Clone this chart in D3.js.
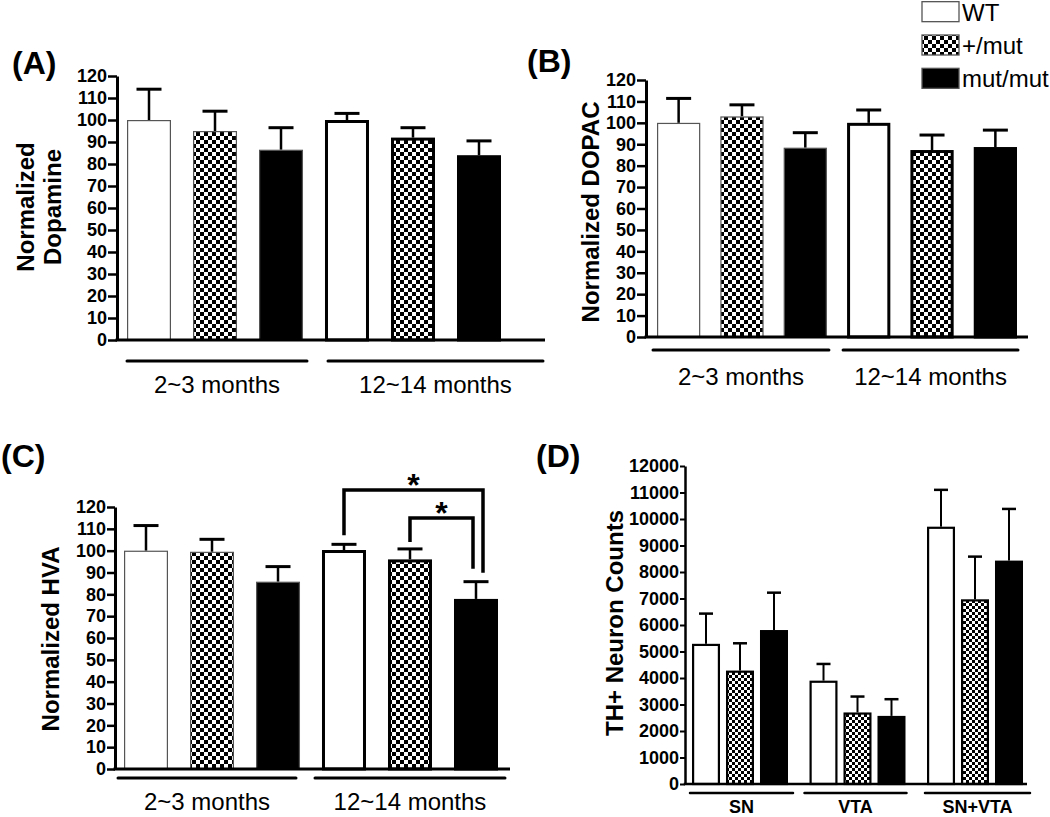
<!DOCTYPE html>
<html><head><meta charset="utf-8">
<script src="https://cdn.jsdelivr.net/npm/d3@7"></script>
<style>body{margin:0;background:#fff;} svg{display:block;font-family:"Liberation Sans",Arial,sans-serif;}</style>
</head><body>
<svg id="chart" width="1050" height="817"></svg>
<script>
// ---------- data ----------
const series = ["WT", "+/mut", "mut/mut"];
const ageGroups = ["2~3 months", "12~14 months"];
const regionGroups = ["SN", "VTA", "SN+VTA"];
const ticks120 = [0,10,20,30,40,50,60,70,80,90,100,110,120];
const ticks12000 = [0,1000,2000,3000,4000,5000,6000,7000,8000,9000,10000,11000,12000];

const dopamineMean = [[100, 95, 86.5], [100, 92, 84]];
const dopamineSem  = [[14, 9, 10], [3, 4.5, 6.5]];
const dopacMean = [[100, 103, 88.4], [100, 87.3, 88.7]];
const dopacSem  = [[11.4, 5.4, 7], [6, 7, 7.9]];
const hvaMean = [[100, 99.5, 85.8], [100.3, 96, 77.9]];
const hvaSem  = [[11.5, 5.7, 6.9], [2.6, 4.8, 7.9]];
const thMean = [[5290, 4280, 5810], [3900, 2700, 2570], [9710, 6970, 8430]];
const thSem  = [[1140, 1030, 1410], [630, 600, 630], [1390, 1610, 1950]];
const hvaComparisons = [
  {group: "12~14 months", from: "WT", to: "mut/mut", level: 127.8, mark: "*"},
  {group: "12~14 months", from: "+/mut", to: "mut/mut", level: 115, mark: "*"}
];

// ---------- drawing ----------
const FONT = "'Liberation Sans', Arial, sans-serif";
const svg = d3.select("#chart");
const defs = svg.append("defs");
function checker(id, c) {
  const p = defs.append("pattern").attr("id", id).attr("patternUnits", "userSpaceOnUse")
    .attr("width", 2*c).attr("height", 2*c);
  p.append("rect").attr("width", 2*c).attr("height", 2*c).attr("fill", "#fff");
  p.append("rect").attr("width", c).attr("height", c).attr("fill", "#000");
  p.append("rect").attr("x", c).attr("y", c).attr("width", c).attr("height", c).attr("fill", "#000");
}
checker("chk4", 4);
checker("chk3", 3);

const panels = [
  {label: "(A)", labelPos: [12, 74], title: ["Normalized", "Dopamine"], titleX: [34, 61], titleY: 207,
   groups: ageGroups, means: dopamineMean, sems: dopamineSem, ticks: ticks120, yMax: 120, yRange: [340, 76],
   axisX: 117, barRange: [127, 501], gPad: 0.111, sPad: 1/3, axisEnd: 545,
   lineY: 361, lineExt: [[0, 4], [3, 42]], labelY: 393, labelFont: "24px", labelWeight: "normal",
   pattern: "chk4", thinFirst: true, thick: 3, tickLen: 9, axisW: 3, capW: 25, errW: 2.5},
  {label: "(B)", labelPos: [527, 72], title: ["Normalized DOPAC"], titleX: [599], titleY: 212,
   groups: ageGroups, means: dopacMean, sems: dopacSem, ticks: ticks120, yMax: 120, yRange: [337, 80],
   axisX: 646, barRange: [657, 1017], gPad: 0.106, sPad: 0.317, axisEnd: 1028,
   lineY: 350, lineExt: [[-4, 2], [-4, 1]], labelY: 385, labelFont: "24px", labelWeight: "normal",
   pattern: "chk4", thinFirst: true, thick: 3, tickLen: 9, axisW: 3, capW: 25, errW: 2.5},
  {label: "(C)", labelPos: [1, 467], title: ["Normalized HVA"], titleX: [59], titleY: 639,
   groups: ageGroups, means: hvaMean, sems: hvaSem, ticks: ticks120, yMax: 120, yRange: [769, 507],
   axisX: 115, barRange: [124, 498], gPad: 0.111, sPad: 1/3, axisEnd: 510,
   lineY: 778, lineExt: [[-6, -4], [-7, 7]], labelY: 810, labelFont: "24px", labelWeight: "normal",
   pattern: "chk4", thinFirst: true, thick: 3, tickLen: 8, axisW: 3, capW: 25, errW: 2.5,
   comparisons: hvaComparisons, compLayout: [{dxTo: 7, gapFrom: 9, gapTo: 9}, {dxTo: -3, gapFrom: 7, gapTo: 13}]},
  {label: "(D)", labelPos: [536, 467], title: ["TH+ Neuron Counts"], titleX: [623], titleY: 623,
   groups: regionGroups, means: thMean, sems: thSem, ticks: ticks12000, yMax: 12000, yRange: [784, 466],
   axisX: 685, barRange: [692, 1023], gPad: 0.183, sPad: 0.176, axisEnd: 1027,
   lineY: 793, lineExt: [[-2, 5], [-5, 1], [-2, 7]], labelY: 813, labelFont: "18px", labelWeight: "bold",
   pattern: "chk3", thinFirst: false, thick: 2.2, tickLen: 5, axisW: 2.5, capW: 14, errW: 2}
];

panels.forEach(p => {
  const g = svg.append("g");
  const y = d3.scaleLinear().domain([0, p.yMax]).range(p.yRange);
  const gx = d3.scaleBand().domain(p.groups).range(p.barRange).paddingInner(p.gPad).paddingOuter(0);
  const sx = d3.scaleBand().domain(series).range([0, gx.bandwidth()]).paddingInner(p.sPad).paddingOuter(0);
  const fillOf = s => s === "WT" ? "#fff" : (s === "+/mut" ? `url(#${p.pattern})` : "#000");

  const rows = [];
  p.groups.forEach((grp, gi) => series.forEach((s, si) => {
    rows.push({grp, gi, s, mean: p.means[gi][si], sem: p.sems[gi][si]});
  }));

  // error bars (upper only)
  rows.forEach(d => {
    const cx = gx(d.grp) + sx(d.s) + sx.bandwidth() / 2;
    g.append("line").attr("x1", cx).attr("x2", cx)
      .attr("y1", y(d.mean)).attr("y2", y(d.mean + d.sem))
      .attr("stroke", "#000").attr("stroke-width", p.errW);
    g.append("line").attr("x1", cx - p.capW / 2).attr("x2", cx + p.capW / 2)
      .attr("y1", y(d.mean + d.sem)).attr("y2", y(d.mean + d.sem))
      .attr("stroke", "#000").attr("stroke-width", p.errW + 0.5);
  });

  // bars
  rows.forEach(d => {
    const thin = p.thinFirst && d.gi === 0;
    const sw = thin ? 1.2 : p.thick;
    const x0 = gx(d.grp) + sx(d.s);
    g.append("rect")
      .attr("x", x0 + sw / 2).attr("width", sx.bandwidth() - sw)
      .attr("y", y(d.mean) + sw / 2).attr("height", y(0) - y(d.mean) - sw / 2)
      .attr("fill", fillOf(d.s))
      .attr("stroke", thin ? "#555" : "#000").attr("stroke-width", sw);
  });

  // y axis
  const ax = g.append("g").attr("transform", `translate(${p.axisX},0)`)
    .call(d3.axisLeft(y).tickValues(p.ticks).tickSize(p.tickLen).tickSizeOuter(0).tickPadding(1).tickFormat(d3.format("d")));
  ax.select(".domain").attr("stroke", "#000").attr("stroke-width", p.axisW);
  ax.selectAll(".tick line").attr("stroke", "#000").attr("stroke-width", p.axisW - 0.5);
  ax.selectAll(".tick text").attr("fill", "#000").style("font-size", "18px").style("font-weight", "bold")
    .style("font-family", FONT);

  // x baseline
  g.append("line").attr("x1", p.axisX - p.axisW / 2).attr("x2", p.axisEnd)
    .attr("y1", y(0)).attr("y2", y(0)).attr("stroke", "#000").attr("stroke-width", p.axisW);

  // group lines and labels
  p.groups.forEach((grp, gi) => {
    const a = gx(grp) + p.lineExt[gi][0], b = gx(grp) + gx.bandwidth() + p.lineExt[gi][1];
    g.append("line").attr("x1", a).attr("x2", b).attr("y1", p.lineY).attr("y2", p.lineY)
      .attr("stroke", "#000").attr("stroke-width", p.axisW).attr("stroke-linecap", "round");
    g.append("text").attr("x", (a + b) / 2).attr("y", p.labelY).attr("text-anchor", "middle")
      .style("font-size", p.labelFont).style("font-weight", p.labelWeight).text(grp);
  });

  // y title
  p.title.forEach((t, i) => {
    g.append("text").attr("transform", `translate(${p.titleX[i]},${p.titleY}) rotate(-90)`)
      .attr("text-anchor", "middle").style("font-size", "24px").style("font-weight", "bold").text(t);
  });

  // panel label
  g.append("text").attr("x", p.labelPos[0]).attr("y", p.labelPos[1])
    .style("font-size", "32px").style("font-weight", "bold").text(p.label);

  // significance brackets
  if (p.comparisons) {
    p.comparisons.forEach((c, i) => {
      const L = p.compLayout[i];
      const fi = series.indexOf(c.from), ti = series.indexOf(c.to), gi = p.groups.indexOf(c.group);
      const x1 = gx(c.group) + sx(c.from) + sx.bandwidth() / 2;
      const x2 = gx(c.group) + sx(c.to) + sx.bandwidth() / 2 + L.dxTo;
      const top = y(c.level);
      const b1 = y(p.means[gi][fi] + p.sems[gi][fi]) - L.gapFrom;
      const b2 = y(p.means[gi][ti] + p.sems[gi][ti]) - L.gapTo;
      g.append("path").attr("d", `M${x1},${b1}V${top}H${x2}V${b2}`)
        .attr("fill", "none").attr("stroke", "#000").attr("stroke-width", 3.5);
      g.append("text").attr("x", (x1 + x2) / 2).attr("y", top + 6).attr("text-anchor", "middle")
        .style("font-size", "32px").style("font-weight", "bold").text(c.mark);
    });
  }
});

// legend
const leg = svg.append("g");
const ly = d3.scaleBand().domain(series).range([0, 90]).paddingInner(0.4).paddingOuter(0.05);
const legFill = s => s === "WT" ? "#fff" : (s === "+/mut" ? "url(#chk4)" : "#000");
series.forEach(s => {
  leg.append("rect").attr("x", 922).attr("y", ly(s)).attr("width", 37).attr("height", ly.bandwidth())
    .attr("fill", legFill(s)).attr("stroke", "#555").attr("stroke-width", 1.3);
  leg.append("text").attr("x", 962).attr("y", ly(s) + ly.bandwidth() - 1)
    .style("font-size", "24px").text(s);
});
</script>
</body></html>
